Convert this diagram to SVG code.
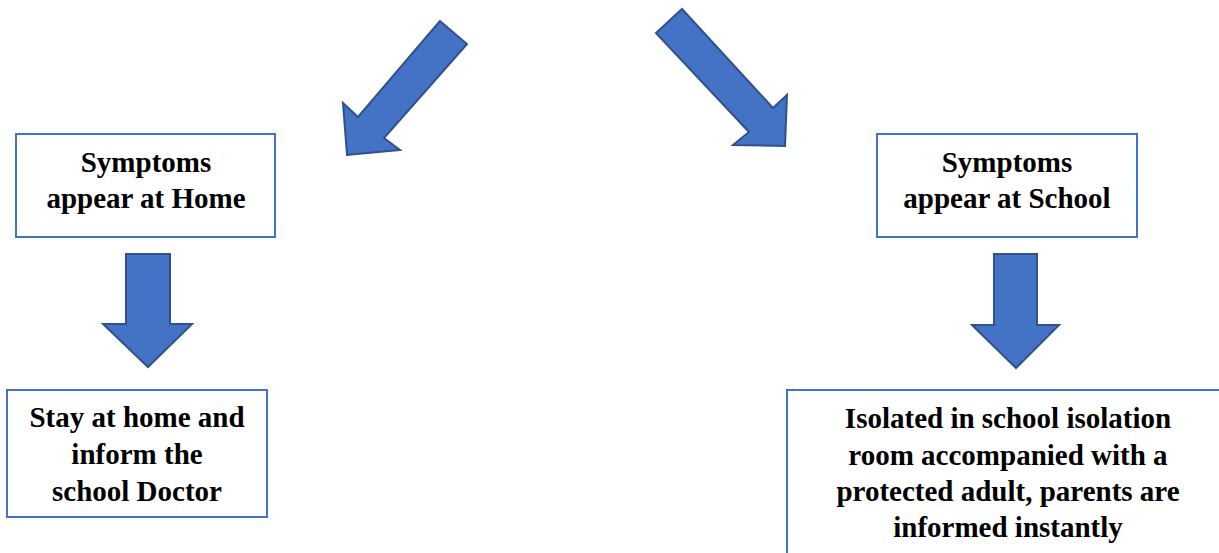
<svg xmlns="http://www.w3.org/2000/svg" width="1219" height="553" viewBox="0 0 1219 553">
<style>
.box{fill:#ffffff;stroke:#4472C4;stroke-width:2}
.arr{fill:#4472C4;stroke:#2F528F;stroke-width:2;stroke-linejoin:miter}
.t{font-family:"Liberation Serif","Times New Roman",serif;font-weight:bold;font-size:29px;fill:#000;text-anchor:middle}
</style>
<rect width="1219" height="553" fill="#ffffff"/>
<g id="connectors">
<polygon class="arr" points="440,21 467,44 384,138 400,150 347,155 343,103 358,117"/>
<polygon class="arr" points="656,33 682,9 773,108 787,95 785,146 733,145 749,132"/>
<polygon class="arr" points="126,254 170,254 170,324 192,324 148,367 103,324 126,324"/>
<polygon class="arr" points="994,254 1037,254 1037,325 1059,325 1016,368 972,325 994,325"/>
</g>
<g id="home">
<rect class="box" x="16" y="134" width="259" height="103"/>
<text class="t" x="146" y="172">Symptoms</text>
<text class="t" x="146" y="208">appear at Home</text>
</g>
<g id="school">
<rect class="box" x="877" y="134" width="260" height="103"/>
<text class="t" x="1007" y="172">Symptoms</text>
<text class="t" x="1007" y="208">appear at School</text>
</g>
<g id="stay-home">
<rect class="box" x="7" y="390" width="260" height="127"/>
<text class="t" x="137" y="427">Stay at home and</text>
<text class="t" x="137" y="464">inform the</text>
<text class="t" x="137" y="501">school Doctor</text>
</g>
<g id="isolated">
<rect class="box" x="787" y="390" width="443" height="180"/>
<text class="t" x="1008" y="428">Isolated in school isolation</text>
<text class="t" x="1008" y="465">room accompanied with a</text>
<text class="t" x="1008" y="501">protected adult, parents are</text>
<text class="t" x="1008" y="537">informed instantly</text>
</g>
</svg>
